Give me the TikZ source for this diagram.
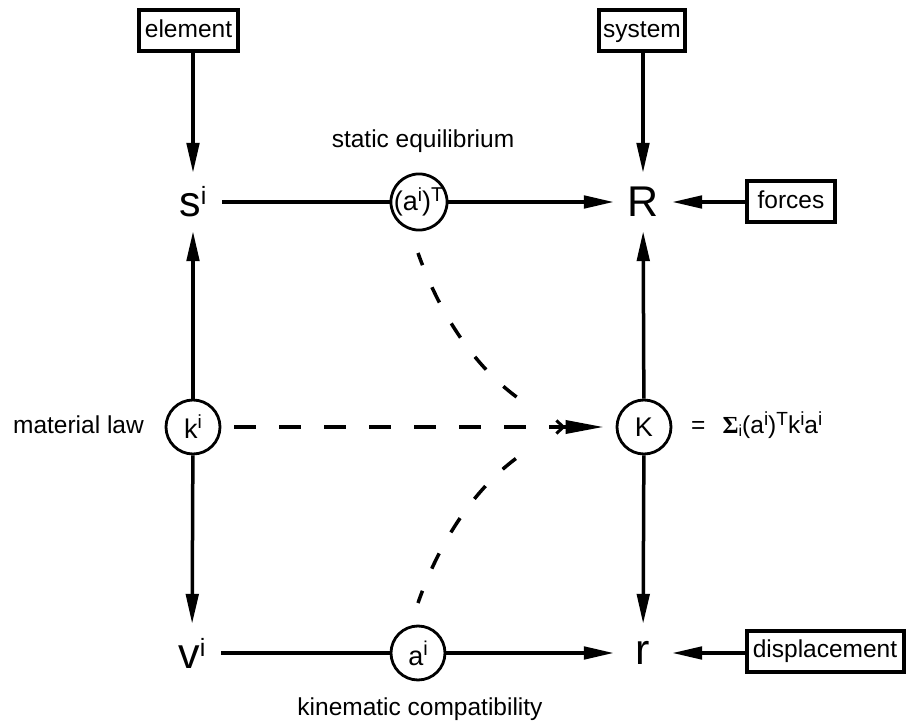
\documentclass[tikz,border=0pt]{standalone}
\usepackage{fontspec}
\setmainfont{Liberation Sans}
\newfontfamily\serifb{Liberation Serif}
\usetikzlibrary{arrows.meta}
\newcommand\upi[3]{\raisebox{#2}{\fontsize{#1}{#1}\selectfont #3}}
\begin{document}
\begin{tikzpicture}[x=1pt,y=-1pt,
  letter/.style={circle, minimum size=58pt, inner sep=0pt, font=\fontsize{43}{43}\selectfont},
  circ/.style={circle, draw, line width=2.8pt, minimum size=54pt, inner sep=0pt, font=\fontsize{27}{27}\selectfont},
  boxn/.style={draw, line width=4pt, inner sep=0pt, minimum height=41pt, text height=17.5pt, text depth=5pt, font=\fontsize{24.5}{24.5}\selectfont},
  lbl/.style={font=\fontsize{24.5}{24.5}\selectfont, inner sep=0pt},
  ln/.style={line width=3.5pt},
  arr/.style={line width=3.5pt, -{Triangle[length=30pt,width=12.5pt]}},
  dsh/.style={line width=3.5pt, dash pattern=on 22pt off 23pt},
  dshc/.style={line width=3.5pt, dash pattern=on 17pt off 24pt, dash phase=4pt}]
\path[fill=white, use as bounding box] (0,0) rectangle (906,722);

% boxes
\node[boxn, minimum width=99pt] (element) at (188.5,31) {element};
\node[boxn, minimum width=86pt] (system) at (642,31) {system};
\node[boxn, minimum width=88pt] (forces) at (791,202) {forces};
\node[boxn, minimum width=157pt] (displ) at (825,651) {displacement};

% letters
\node[letter] (s) at (193,202) {s\upi{25}{12pt}{i}};
\node[letter] (R) at (643,202) {R};
\node[letter] (v) at (192,653) {v\upi{25}{12pt}{i}};
\node[letter] (r) at (643,653) {r};

% circles
\node[circ] (aT) at (419,202) {\kern-1pt(a\upi{19}{9pt}{i})\upi{20}{9pt}{T}};
\node[circ] (k) at (193,427) {k\upi{19}{10pt}{i}};
\node[circ] (K) at (644,427) {K};
\node[circ] (a) at (418,653) {a\upi{20}{10pt}{i}};

% labels
\node[lbl, anchor=base] (se) at (423,148) {static equilibrium};
\node[lbl, anchor=base] (kc) at (420,715) {kinematic compatibility};
\node[lbl, anchor=base east] (ml) at (144,433) {material law};
\node[lbl, anchor=base west] (eq) at (691,433) {=\hspace{0.7em}{\serifb\bfseries Σ}\raisebox{-3pt}{\fontsize{16}{16}\selectfont i}(a\upi{19}{8pt}{i})\upi{19}{8pt}{T}k\upi{19}{8pt}{i}a\upi{19}{8pt}{i}};

% solid connectors
\draw[arr] (element.south -| s) -- (s);
\draw[arr] (system.south -| R) -- (R);
\draw[arr] (forces) -- (R);
\draw[arr] (displ.west |- r) -- (r);
\draw[ln] (s) -- (aT);
\draw[arr] (aT) -- (R);
\draw[ln] (v) -- (a);
\draw[arr] (a) -- (r);
\draw[arr] (k) -- (s);
\draw[arr] (k) -- (v);
\draw[arr] (K) -- (R);
\draw[arr] (K) -- (r);

% dashed connectors
\draw[dsh, shorten <=13pt, shorten >=12pt,
  -{Straight Barb[length=7pt,width=13pt,line width=3pt] Triangle[length=38pt,width=13pt]}] (k) -- (K);
\coordinate (u1) at (418,253);
\coordinate (u2) at (533,408);
\coordinate (l1) at (418,603);
\coordinate (l2) at (533,447);
\draw[dshc] (u1) .. controls (440,315) and (478,375) .. (u2);
\draw[dshc] (l1) .. controls (440,540) and (478,480) .. (l2);
\end{tikzpicture}
\end{document}
